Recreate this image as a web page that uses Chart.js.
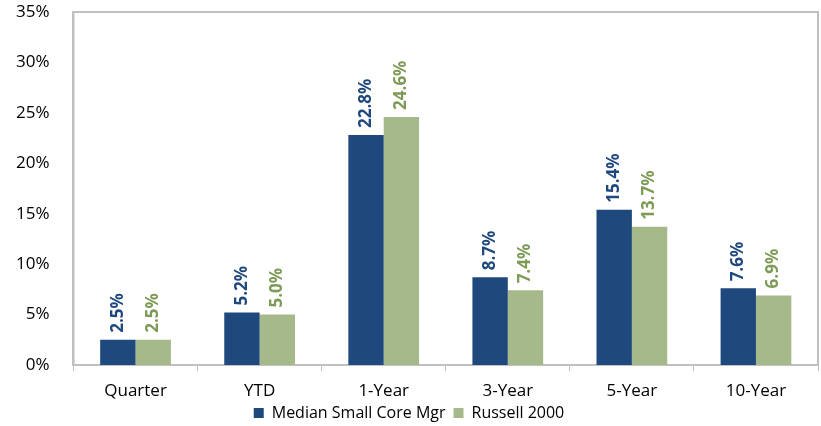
<!DOCTYPE html>
<html>
<head>
<meta charset="utf-8">
<script src="https://cdn.jsdelivr.net/npm/chart.js@4.4.0/dist/chart.umd.min.js"></script>
<style>
  body { margin: 0; background: #fff; }
  #wrap { width: 821px; height: 426px; }
</style>
</head>
<body>
<div id="wrap"><canvas id="perf"></canvas></div>
<script>
var periods = ["Quarter", "YTD", "1-Year", "3-Year", "5-Year", "10-Year"];
var medianMgr = [2.5, 5.2, 22.8, 8.7, 15.4, 7.6];
var russell2000 = [2.5, 5.0, 24.6, 7.4, 13.7, 6.9];
var yTicks = [0, 5, 10, 15, 20, 25, 30, 35];

var fontFam = "'Open Sans', 'Liberation Sans', sans-serif";

// rotated value labels above the bars
var barLabels = {
  id: 'barLabels',
  afterDatasetsDraw: function(chart) {
    var ctx = chart.ctx;
    chart.data.datasets.forEach(function(ds, i) {
      var meta = chart.getDatasetMeta(i);
      meta.data.forEach(function(bar, j) {
        ctx.save();
        ctx.translate(bar.x, bar.y - 7);
        ctx.rotate(-Math.PI / 2);
        ctx.font = "bold 17px " + fontFam;
        ctx.fillStyle = ds.labelColor;
        ctx.textAlign = 'left';
        ctx.textBaseline = 'middle';
        ctx.fillText(ds.data[j].toFixed(1) + '%', 0, 0);
        ctx.restore();
      });
    });
  }
};

// gray frame round the plot area; also stop the x labels being clipped
var frame = {
  id: 'frame',
  afterLayout: function(chart) {
    chart.scales.x.bottom += 14;
  },
  beforeDatasetsDraw: function(chart) {
    var a = chart.chartArea, ctx = chart.ctx;
    ctx.save();
    ctx.strokeStyle = '#c0c0c0';
    ctx.lineWidth = 2;
    ctx.strokeRect(a.left, a.top, a.right - a.left, a.bottom - a.top);
    ctx.restore();
  }
};

new Chart(document.getElementById('perf'), {
  type: 'bar',
  data: {
    labels: periods,
    datasets: [{
      label: 'Median Small Core Mgr',
      data: medianMgr,
      backgroundColor: '#1f497d',
      labelColor: '#1f497d',
      categoryPercentage: 0.57,
      barPercentage: 1.0
    }, {
      label: 'Russell 2000',
      data: russell2000,
      backgroundColor: '#a6b98b',
      labelColor: '#7d9a57',
      categoryPercentage: 0.57,
      barPercentage: 1.0
    }]
  },
  options: {
    responsive: true,
    maintainAspectRatio: false,
    animation: false,
    layout: { padding: { left: 0, right: 3, top: 0, bottom: -5 } },
    plugins: {
      legend: {
        position: 'bottom',
        labels: {
          boxWidth: 10, boxHeight: 10, padding: 8,
          color: '#000',
          font: { family: fontFam, size: 16 }
        }
      },
      tooltip: { enabled: false }
    },
    scales: {
      x: {
        grid: { display: true, drawOnChartArea: false, offset: true, tickLength: 6, color: '#c0c0c0' },
        border: { color: '#c0c0c0', width: 2 },
        ticks: { color: '#000', padding: 10, font: { family: fontFam, size: 17 } },
        afterFit: function(axis) { axis.height = 32; }
      },
      y: {
        min: 0, max: 35,
        afterBuildTicks: function(axis) {
          axis.ticks = yTicks.map(function(v) { return { value: v }; });
        },
        grid: { display: false },
        border: { color: '#c0c0c0', width: 2 },
        ticks: {
          color: '#000', padding: 16,
          font: { family: fontFam, size: 17 },
          callback: function(v) { return v + '%'; }
        },
        afterFit: function(axis) { axis.paddingTop = 12; axis.paddingBottom = 0; }
      }
    }
  },
  plugins: [frame, barLabels]
});
</script>
</body>
</html>
